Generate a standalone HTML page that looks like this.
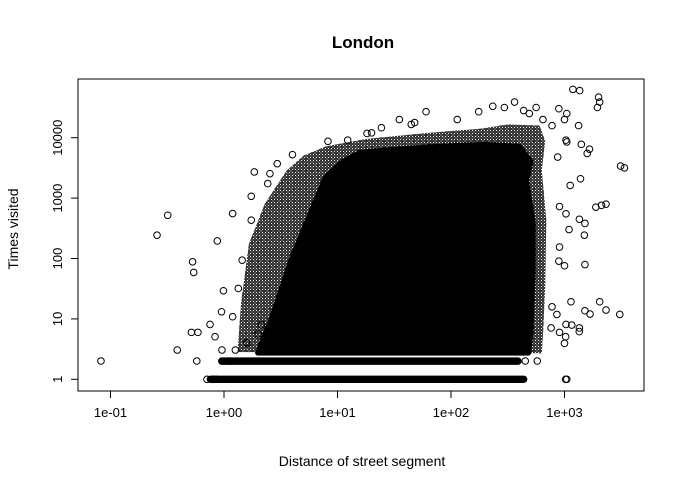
<!DOCTYPE html>
<html><head><meta charset="utf-8"><style>
body{margin:0;background:#fff}
svg{display:block;font-family:"Liberation Sans",Arial,sans-serif}
</style></head><body>
<svg id="chart" width="686" height="489" viewBox="0 0 686 489">
<defs>
<pattern id="rings" width="6" height="6" patternUnits="userSpaceOnUse">
<circle cx="0" cy="0" r="3.2" fill="none" stroke="#000" stroke-width="1"/>
<circle cx="6" cy="0" r="3.2" fill="none" stroke="#000" stroke-width="1"/>
<circle cx="0" cy="6" r="3.2" fill="none" stroke="#000" stroke-width="1"/>
<circle cx="6" cy="6" r="3.2" fill="none" stroke="#000" stroke-width="1"/>
<circle cx="3" cy="3" r="3.2" fill="none" stroke="#000" stroke-width="1"/>
</pattern>
<clipPath id="plotclip"><rect x="78" y="79" width="566" height="312"/></clipPath>
</defs>
<rect width="686" height="489" fill="#fff"/>
<text x="363" y="48" text-anchor="middle" font-size="17" font-weight="bold">London</text>
<text x="362" y="466" text-anchor="middle" font-size="14">Distance of street segment</text>
<text transform="translate(18,229) rotate(-90)" text-anchor="middle" font-size="14">Times visited</text>
<g id="marks" clip-path="url(#plotclip)"></g>
<g id="axes"></g>
<rect x="78" y="79" width="566" height="312" fill="none" stroke="#000" stroke-width="1"/>
</svg>
<script>
// log10 tick values
const xTicks = [-1, 0, 1, 2, 3];
const xTickLabels = ["1e-01", "1e+00", "1e+01", "1e+02", "1e+03"];
const yTicks = [0, 1, 2, 3, 4];
const yTickLabels = ["1", "10", "100", "1000", "10000"];
// density envelope (log10 distance, log10 visits) – outer fringe
const fringeX = [0.12,0.15,0.22,0.36,0.55,0.7,0.9,1.259,1.797,2.267,2.502,2.78,2.83,2.8,2.84,2.83,2.81,2.8];
const fringeY = [0.45,1.256,2.248,2.909,3.45,3.7,3.86,3.98,4.08,4.15,4.22,4.2,3.95,3.46,2.63,1.53,0.705,0.43];
// solid core
const coreX = [0.3,0.42,0.6,0.82,0.9,1.05,1.2,1.5,1.9,2.3,2.6,2.7,2.66,2.72,2.72,2.7,2.68];
const coreY = [0.44,1.0,2.0,3.0,3.35,3.6,3.75,3.8,3.85,3.88,3.85,3.6,3.3,2.6,1.8,0.8,0.44];
// horizontal rows of integer visits (log10 visits, log10 dist range)
const rowY = [0, 0.301];
const rowStart = [-0.12, -0.02];
const rowEnd = [2.64, 2.59];
// individual points (log10 distance, log10 visits)
const ptX = [-1.084,-0.59,-0.496,-0.277,-0.267,-0.059,-0.005,-0.022,-0.412,-0.287,-0.23,-0.123,-0.079,-0.24,0.076,-0.018,0.076,0.126,0.16,0.24,0.267,0.24,0.469,0.405,0.603,0.385,
3.074,3.134,3.3,3.31,3.29,3.494,3.528,3.141,3.05,3.276,3.326,3.366,3.131,3.18,3.175,3.04,3.013,2.956,3.18,2.95,3.0,2.956,3.057,3.31,3.366,3.18,3.225,3.487,2.933,2.89,3.013,3.064,3.131,3.13,3.0,2.882,2.956,3.01,3.01,3.02,2.654,2.76,3.124,3.148,3.2,3.22,2.95,3.02,3.0,3.013,2.94,2.89,3.02,
1.78,1.545,1.65,1.68,2.244,2.368,2.56,2.47,2.055,1.387,0.916,1.09,1.26,1.3,2.75,2.69,2.81,2.64,-0.15,-0.1,-0.07,0.05,0.1,0.2,0.3,0.33];
const ptY = [0.303,2.386,2.716,1.945,1.769,2.29,1.466,1.118,0.485,0.777,0.777,0.909,0.705,0.303,2.744,0.485,1.036,1.504,1.972,2.634,3.433,3.03,3.57,3.405,3.719,3.24,
4.8,4.78,4.67,4.59,4.5,3.53,3.5,3.32,3.21,2.85,2.88,2.9,2.65,2.58,2.386,2.48,2.74,2.86,1.9,1.956,1.88,2.19,1.284,1.284,1.146,1.135,1.08,1.074,1.074,1.2,0.909,0.898,0.85,0.79,0.595,0.85,0.777,0.705,0,0,0.303,0.303,4.2,3.89,3.74,3.81,4.48,4.4,4.3,3.96,3.68,4.2,3.93,
4.43,4.3,4.22,4.25,4.43,4.52,4.59,4.5,4.3,4.165,3.94,3.96,4.07,4.08,4.5,4.4,4.3,4.45,0,0,0,0.3,0.485,0.6,0.75,0.9];

const NS = "http://www.w3.org/2000/svg";
const xs = v => 224 + 113.5 * v;
const ys = v => 379.3 - 60.4 * v;
const marks = document.getElementById('marks');
const axes = document.getElementById('axes');
function el(tag, attrs, parent) {
  const e = document.createElementNS(NS, tag);
  for (const k in attrs) e.setAttribute(k, attrs[k]);
  parent.appendChild(e);
  return e;
}
function poly(X, Y) { return X.map((v, i) => xs(v).toFixed(1) + ',' + ys(Y[i]).toFixed(1)).join(' '); }

const fr = el('polygon', {points: poly(fringeX, fringeY), fill: 'url(#rings)'}, marks);


const co = el('polygon', {points: poly(coreX, coreY), fill: '#000', stroke: '#000', 'stroke-width': 6, 'stroke-linejoin': 'round'}, marks);



rowY.forEach((r, i) => {
  const ln = el('line', {x1: xs(rowStart[i]), x2: xs(rowEnd[i]), y1: ys(r), y2: ys(r), stroke: '#000', 'stroke-width': 7.4, 'stroke-linecap': 'round'}, marks);
  
  
});
const gap = el('rect', {x: xs(0.15), y: ys(0.301) - 5.4, width: xs(2.75) - xs(0.15), height: 1.3, fill: '#fff'}, marks);



ptX.forEach((v, i) => {
  const c = el('circle', {cx: xs(v), cy: ys(ptY[i]), r: 3.3, fill: 'none', stroke: '#000', 'stroke-width': 1}, marks);
  
  
});

// axes
const xa = el('line', {x1: xs(xTicks[0]), x2: xs(xTicks[xTicks.length - 1]), y1: 391, y2: 391, stroke: '#000'}, axes);


xTicks.forEach((t, i) => {
  const tk = el('line', {x1: xs(t), x2: xs(t), y1: 391, y2: 398, stroke: '#000'}, axes);
  
  
  const tx = el('text', {x: xs(t), y: 417, 'text-anchor': 'middle', 'font-size': 13}, axes);
  tx.textContent = xTickLabels[i];
  
  
});
const ya = el('line', {x1: 78, x2: 78, y1: ys(yTicks[0]), y2: ys(yTicks[yTicks.length - 1]), stroke: '#000'}, axes);


yTicks.forEach((t, i) => {
  const tk = el('line', {x1: 71, x2: 78, y1: ys(t), y2: ys(t), stroke: '#000'}, axes);
  
  
  const tx = el('text', {transform: 'translate(62,' + ys(t) + ') rotate(-90)', 'text-anchor': 'middle', 'font-size': 13}, axes);
  tx.textContent = yTickLabels[i];
  
  
});
</script>
</body></html>
